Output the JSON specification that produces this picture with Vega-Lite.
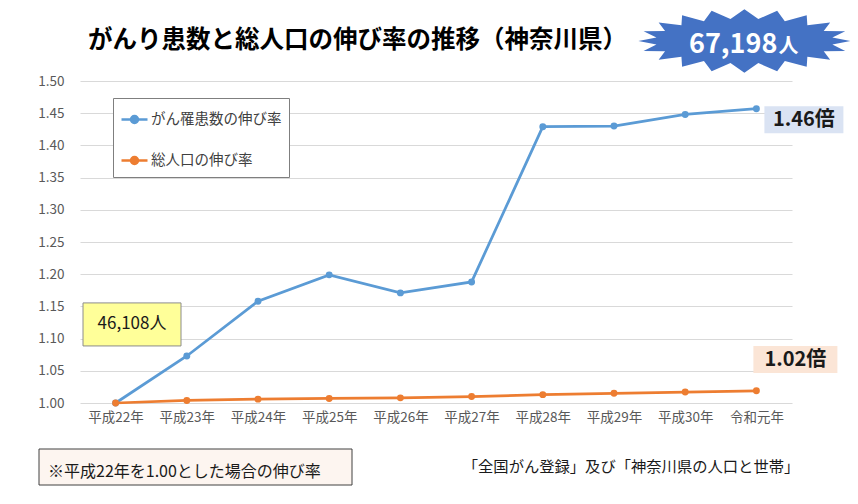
{
  "$schema": "https://vega.github.io/schema/vega-lite/v6.json",
  "width": 712,
  "height": 322,
  "autosize": {"type": "none"},
  "padding": {"left": 80, "top": 81, "right": 66, "bottom": 101},
  "background": "white",
  "config": {"font": "Noto Sans CJK JP", "view": {"stroke": null}},
  "title": {
    "text": "がんり患数と総人口の伸び率の推移（神奈川県）",
    "anchor": "start",
    "frame": "group",
    "dx": 8,
    "offset": -44,
    "fontSize": 24.5,
    "fontWeight": "bold",
    "color": "#000000",
    "font": "Noto Sans CJK JP"
  },
  "datasets": {
    "series": [
      {"year": "平成22年", "series": "がん罹患数の伸び率", "value": 1.000},
      {"year": "平成23年", "series": "がん罹患数の伸び率", "value": 1.073},
      {"year": "平成24年", "series": "がん罹患数の伸び率", "value": 1.158},
      {"year": "平成25年", "series": "がん罹患数の伸び率", "value": 1.199},
      {"year": "平成26年", "series": "がん罹患数の伸び率", "value": 1.171},
      {"year": "平成27年", "series": "がん罹患数の伸び率", "value": 1.188},
      {"year": "平成28年", "series": "がん罹患数の伸び率", "value": 1.429},
      {"year": "平成29年", "series": "がん罹患数の伸び率", "value": 1.430},
      {"year": "平成30年", "series": "がん罹患数の伸び率", "value": 1.448},
      {"year": "令和元年", "series": "がん罹患数の伸び率", "value": 1.457},
      {"year": "平成22年", "series": "総人口の伸び率", "value": 1.000},
      {"year": "平成23年", "series": "総人口の伸び率", "value": 1.004},
      {"year": "平成24年", "series": "総人口の伸び率", "value": 1.006},
      {"year": "平成25年", "series": "総人口の伸び率", "value": 1.007},
      {"year": "平成26年", "series": "総人口の伸び率", "value": 1.008},
      {"year": "平成27年", "series": "総人口の伸び率", "value": 1.010},
      {"year": "平成28年", "series": "総人口の伸び率", "value": 1.013},
      {"year": "平成29年", "series": "総人口の伸び率", "value": 1.015},
      {"year": "平成30年", "series": "総人口の伸び率", "value": 1.017},
      {"year": "令和元年", "series": "総人口の伸び率", "value": 1.019}
    ],
    "notes": [
      {"id": "start", "year": "平成22年", "value": 1.122, "label": "46,108人"},
      {"id": "cancer", "year": "令和元年", "value": 1.440, "label": "1.46倍"},
      {"id": "pop", "year": "令和元年", "value": 1.0675, "label": "1.02倍"},
      {"id": "total", "year": "令和元年", "value": 1.562, "label": "67,198"},
      {"id": "unit", "year": "令和元年", "value": 1.562, "label": "人"},
      {"id": "note", "year": "平成23年", "value": 0.9006, "label": "※平成22年を1.00とした場合の伸び率"},
      {"id": "source", "year": "平成29年", "value": 0.9006, "label": "「全国がん登録」及び「神奈川県の人口と世帯」"}
    ]
  },
  "encoding": {
    "x": {
      "field": "year",
      "type": "ordinal",
      "scale": {"type": "point", "padding": 0.5, "domain": ["平成22年", "平成23年", "平成24年", "平成25年", "平成26年", "平成27年", "平成28年", "平成29年", "平成30年", "令和元年"]},
      "axis": {"title": null, "labelAngle": 0, "labelFontSize": 13.5, "labelColor": "#595959", "domain": false, "ticks": false, "grid": false, "labelPadding": 7}
    },
    "y": {
      "field": "value",
      "type": "quantitative",
      "scale": {"domain": [1, 1.5], "zero": false, "nice": false},
      "axis": {"title": null, "values": [1, 1.05, 1.1, 1.15, 1.2, 1.25, 1.3, 1.35, 1.4, 1.45, 1.5], "format": ".2f", "labelFontSize": 13.5, "labelColor": "#595959", "domain": false, "ticks": false, "labelPadding": 16, "gridColor": "#d9d9d9", "gridWidth": 1}
    }
  },
  "layer": [
    {
      "data": {"name": "series"},
      "mark": {"type": "line", "strokeWidth": 2.75, "point": {"filled": true, "size": 48}},
      "encoding": {
        "color": {
          "field": "series",
          "type": "nominal",
          "scale": {"domain": ["がん罹患数の伸び率", "総人口の伸び率"], "range": ["#5B9BD5", "#ED7D31"]},
          "legend": {
            "orient": "none",
            "legendX": 33,
            "legendY": 17,
            "title": null,
            "symbolType": "M-1,0L1,0M-0.27,0A0.27,0.27 0 1,1 0.27,0A0.27,0.27 0 1,1 -0.27,0Z",
            "symbolSize": 676,
            "symbolStrokeWidth": 2.5,
            "labelFontSize": 14.5,
            "labelColor": "#404040",
            "labelOffset": 2,
            "rowPadding": 17,
            "padding": 7,
            "strokeColor": "#7f7f7f",
            "fillColor": "white",
            "labelLimit": 300,
            "encode": {"symbols": {"update": {"fill": {"scale": "color", "field": "value"}, "stroke": {"scale": "color", "field": "value"}}}}
          }
        }
      }
    },
    {
      "data": {"name": "notes"},
      "transform": [{"filter": "datum.id === 'total'"}],
      "mark": {"type": "point", "filled": true, "opacity": 1, "color": "#4472C4", "size": 44944, "xOffset": -12, "clip": false,
        "shape": "M1,0L0.8297,0.0328L0.9511,0.0927L0.7484,0.0953L0.809,0.1763L0.594,0.1485L0.5878,0.2427L0.3814,0.1871L0.309,0.2853L0.1314,0.2074L0,0.3L-0.1314,0.2074L-0.309,0.2853L-0.3814,0.1871L-0.5878,0.2427L-0.594,0.1485L-0.809,0.1763L-0.7484,0.0953L-0.9511,0.0927L-0.8297,0.0328L-1,0L-0.8297,-0.0328L-0.9511,-0.0927L-0.7484,-0.0953L-0.809,-0.1763L-0.594,-0.1485L-0.5878,-0.2427L-0.3814,-0.1871L-0.309,-0.2853L-0.1314,-0.2074L0,-0.3L0.1314,-0.2074L0.309,-0.2853L0.3814,-0.1871L0.5878,-0.2427L0.594,-0.1485L0.809,-0.1763L0.7484,-0.0953L0.9511,-0.0927L0.8297,-0.0328Z"}
    },
    {
      "data": {"name": "notes"},
      "transform": [{"filter": "datum.id === 'start'"}],
      "mark": {"type": "point", "filled": true, "opacity": 1, "fill": "#FFFF99", "stroke": "#8c8c8c", "strokeWidth": 1, "size": 9604, "xOffset": 16.4, "shape": "M-1,-0.439H1V0.439H-1Z"}
    },
    {
      "data": {"name": "notes"},
      "transform": [{"filter": "datum.id === 'cancer'"}],
      "mark": {"type": "point", "filled": true, "opacity": 1, "fill": "#DAE3F3", "strokeWidth": 0, "size": 6241, "xOffset": 47.5, "shape": "M-1,-0.342H1V0.342H-1Z"}
    },
    {
      "data": {"name": "notes"},
      "transform": [{"filter": "datum.id === 'pop'"}],
      "mark": {"type": "point", "filled": true, "opacity": 1, "fill": "#FBE5D6", "strokeWidth": 0, "size": 7056, "xOffset": 39, "shape": "M-1,-0.321H1V0.321H-1Z"}
    },
    {
      "data": {"name": "notes"},
      "transform": [{"filter": "datum.id === 'note'"}],
      "mark": {"type": "point", "filled": true, "opacity": 1, "fill": "#FDF5F0", "stroke": "#404040", "strokeWidth": 1, "size": 97969, "xOffset": 8.7, "clip": false, "shape": "M-1,-0.115H1V0.115H-1Z"}
    },
    {
      "data": {"name": "notes"},
      "transform": [{"filter": "datum.id === 'start'"}],
      "mark": {"type": "text", "fontSize": 17, "color": "#1a1a1a", "align": "center", "baseline": "middle", "xOffset": 16.4},
      "encoding": {"text": {"field": "label"}}
    },
    {
      "data": {"name": "notes"},
      "transform": [{"filter": "datum.id === 'cancer'"}],
      "mark": {"type": "text", "fontSize": 20, "fontWeight": "bold", "color": "#1a1a1a", "align": "center", "baseline": "middle", "xOffset": 47.5},
      "encoding": {"text": {"field": "label"}}
    },
    {
      "data": {"name": "notes"},
      "transform": [{"filter": "datum.id === 'pop'"}],
      "mark": {"type": "text", "fontSize": 20, "fontWeight": "bold", "color": "#1a1a1a", "align": "center", "baseline": "middle", "xOffset": 39},
      "encoding": {"text": {"field": "label"}}
    },
    {
      "data": {"name": "notes"},
      "transform": [{"filter": "datum.id === 'total'"}],
      "mark": {"type": "text", "fontSize": 27, "fontWeight": "bold", "color": "white", "align": "right", "baseline": "alphabetic", "xOffset": 21, "yOffset": 12},
      "encoding": {"text": {"field": "label"}}
    },
    {
      "data": {"name": "notes"},
      "transform": [{"filter": "datum.id === 'unit'"}],
      "mark": {"type": "text", "fontSize": 20, "fontWeight": "bold", "color": "white", "align": "left", "baseline": "alphabetic", "xOffset": 22, "yOffset": 12},
      "encoding": {"text": {"field": "label"}}
    },
    {
      "data": {"name": "notes"},
      "transform": [{"filter": "datum.id === 'note'"}],
      "mark": {"type": "text", "fontSize": 16, "color": "#1a1a1a", "align": "left", "baseline": "middle", "xOffset": -138.8, "yOffset": 5},
      "encoding": {"text": {"field": "label"}}
    },
    {
      "data": {"name": "notes"},
      "transform": [{"filter": "datum.id === 'source'"}],
      "mark": {"type": "text", "fontSize": 15.3, "color": "#1a1a1a", "align": "center", "baseline": "middle", "xOffset": 17},
      "encoding": {"text": {"field": "label"}}
    }
  ]
}
